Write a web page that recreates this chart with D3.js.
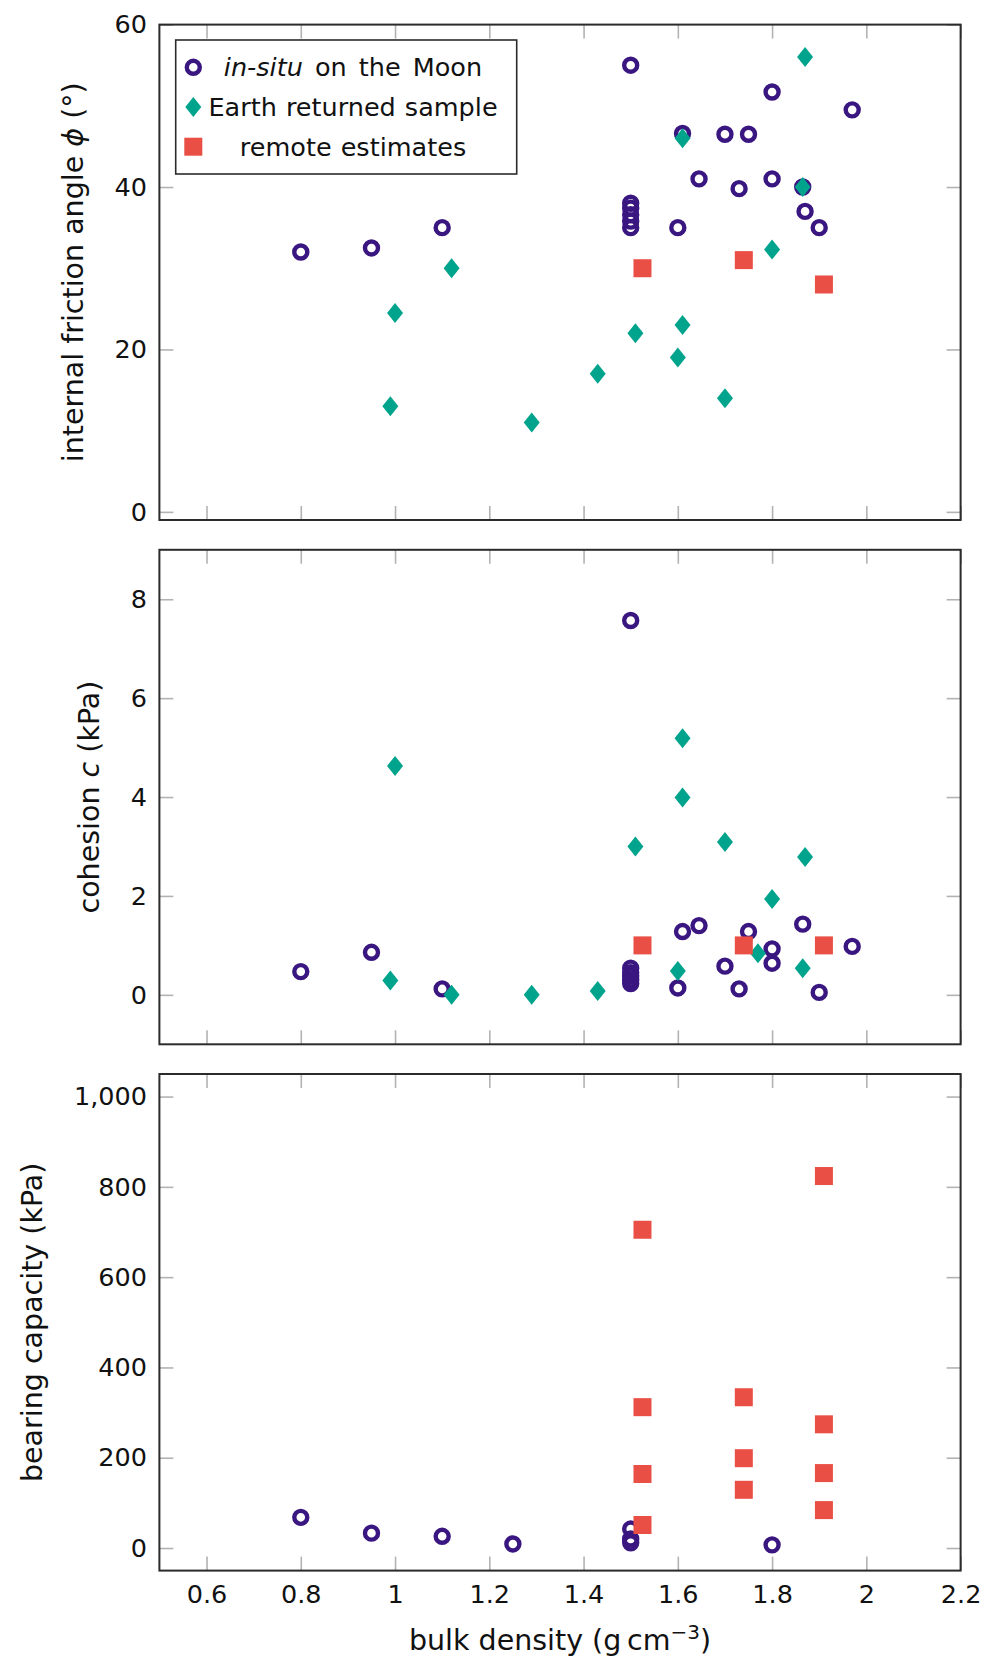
<!DOCTYPE html>
<html><head><meta charset="utf-8">
<script src="https://cdn.jsdelivr.net/npm/d3@7"></script>
<style>
html,body{margin:0;padding:0;background:#fff;}
svg{display:block;font-family:"DejaVu Sans",sans-serif;}
</style></head>
<body>
<svg id="chart" width="997" height="1678"></svg>
<script>
// ---------------- DATA ----------------
const xTicks = [0.6, 0.8, 1.0, 1.2, 1.4, 1.6, 1.8, 2.0, 2.2];

// Panel 1: internal friction angle (deg)
const phiInSituX = [0.80, 0.95, 1.10, 1.50, 1.50, 1.50, 1.50, 1.50, 1.50, 1.60, 1.61, 1.645, 1.70, 1.73, 1.75, 1.80, 1.80, 1.865, 1.87, 1.90, 1.97];
const phiInSituY = [32.0, 32.5, 35.0, 55.0, 35.0, 35.8, 36.6, 37.4, 38.0, 35.0, 46.6, 41.0, 46.5, 39.8, 46.5, 51.7, 41.0, 40.0, 37.0, 35.0, 49.5];
const phiEarthX = [0.99, 1.00, 1.12, 1.29, 1.43, 1.51, 1.60, 1.61, 1.61, 1.70, 1.80, 1.865, 1.87];
const phiEarthY = [13.0, 24.5, 30.0, 11.0, 17.0, 22.0, 19.0, 23.0, 46.0, 14.0, 32.3, 40.0, 56.0];
const phiRemoteX = [1.525, 1.74, 1.91];
const phiRemoteY = [30.0, 31.0, 28.0];

// Panel 2: cohesion (kPa)
const cohInSituX = [0.80, 0.95, 1.10, 1.50, 1.50, 1.50, 1.50, 1.50, 1.50, 1.60, 1.61, 1.645, 1.70, 1.73, 1.75, 1.80, 1.80, 1.865, 1.90, 1.97];
const cohInSituY = [0.47, 0.86, 0.12, 7.57, 0.23, 0.30, 0.38, 0.45, 0.54, 0.14, 1.28, 1.40, 0.58, 0.12, 1.28, 0.93, 0.64, 1.43, 0.05, 0.98];
const cohEarthX = [0.99, 1.00, 1.12, 1.29, 1.43, 1.51, 1.60, 1.61, 1.61, 1.70, 1.77, 1.80, 1.865, 1.87];
const cohEarthY = [0.29, 4.63, 0.00, 0.00, 0.08, 3.00, 0.48, 5.19, 3.99, 3.09, 0.84, 1.94, 0.54, 2.79];
const cohRemoteX = [1.525, 1.74, 1.91];
const cohRemoteY = [1.0, 1.0, 1.0];

// Panel 3: bearing capacity (kPa)
const bcInSituX = [0.80, 0.95, 1.10, 1.25, 1.50, 1.50, 1.50, 1.80];
const bcInSituY = [68, 33, 26, 9, 42, 20, 11.5, 7];
const bcRemoteX = [1.525, 1.525, 1.525, 1.525, 1.74, 1.74, 1.74, 1.91, 1.91, 1.91, 1.91];
const bcRemoteY = [705, 312, 164, 51, 334, 199, 129, 824, 274, 166, 84];

const yTicks1 = [0, 20, 40, 60];
const yTicks2 = [0, 2, 4, 6, 8];
const yTicks3 = [0, 200, 400, 600, 800, 1000];

const legendLabels = ["in-situ", "Earth returned sample", "remote estimates"];

// ---------------- STYLE ----------------
const C_PURPLE = "#3a1681", C_TEAL = "#00a38c", C_RED = "#e94f45";
const FRAME = "#2b2b2b", TICKC = "#b3b3b3";
const TICKFS = 25.5, LABELFS = 28.5;
const left = 159.4, right = 960.6;

const svg = d3.select("#chart");
svg.append("rect").attr("width", 997).attr("height", 1678).attr("fill", "#fff");

const x = d3.scaleLinear().domain([0.5, 2.2]).range([left, right]);
const fmtX = d => String(+d.toFixed(1));

const panels = [
  {top: 24.6, bottom: 520.0, dom: [-1, 60], ticks: yTicks1, fmt: d3.format("d"),
   series: [[phiInSituX, phiInSituY, "circle"], [phiEarthX, phiEarthY, "diamond"], [phiRemoteX, phiRemoteY, "square"]],
   label: "phi"},
  {top: 549.8, bottom: 1044.3, dom: [-1, 9], ticks: yTicks2, fmt: d3.format("d"),
   series: [[cohInSituX, cohInSituY, "circle"], [cohEarthX, cohEarthY, "diamond"], [cohRemoteX, cohRemoteY, "square"]],
   label: "coh"},
  {top: 1074.0, bottom: 1570.6, dom: [-50, 1050], ticks: yTicks3, fmt: d3.format(","),
   series: [[bcInSituX, bcInSituY, "circle"], [bcRemoteX, bcRemoteY, "square"]],
   label: "bc"}
];

function drawMarker(g, type, cx, cy) {
  if (type === "circle") {
    g.append("circle").attr("cx", cx).attr("cy", cy).attr("r", 6.5)
      .attr("fill", "none").attr("stroke", C_PURPLE).attr("stroke-width", 4.4);
  } else if (type === "diamond") {
    g.append("path").attr("transform", `translate(${cx},${cy})`)
      .attr("d", "M0,-10L8,0L0,10L-8,0Z").attr("fill", C_TEAL);
  } else {
    g.append("rect").attr("x", cx - 9).attr("y", cy - 9).attr("width", 18).attr("height", 18)
      .attr("fill", C_RED);
  }
}

panels.forEach((p, i) => {
  const y = d3.scaleLinear().domain(p.dom).range([p.bottom, p.top]);
  const g = svg.append("g");

  // ticks (inward, on all four sides)
  const axB = d3.axisBottom(x).tickValues(xTicks).tickSizeInner(-14).tickSizeOuter(0).tickPadding(14.3)
    .tickFormat(i === 2 ? fmtX : () => "");
  const axT = d3.axisTop(x).tickValues(xTicks).tickSizeInner(-14).tickSizeOuter(0).tickFormat(() => "");
  const axL = d3.axisLeft(y).tickValues(p.ticks).tickSizeInner(-14).tickSizeOuter(0).tickPadding(12.4).tickFormat(p.fmt);
  const axR = d3.axisRight(y).tickValues(p.ticks).tickSizeInner(-14).tickSizeOuter(0).tickFormat(() => "");

  const gB = g.append("g").attr("transform", `translate(0,${p.bottom})`).call(axB);
  const gT = g.append("g").attr("transform", `translate(0,${p.top})`).call(axT);
  const gL = g.append("g").attr("transform", `translate(${left},0)`).call(axL);
  const gR = g.append("g").attr("transform", `translate(${right},0)`).call(axR);
  [gB, gT, gL, gR].forEach(a => {
    a.select(".domain").remove();
    a.selectAll(".tick line").attr("stroke", TICKC).attr("stroke-width", 1.6);
    a.selectAll(".tick text").attr("fill", "#111").style("font-size", TICKFS + "px")
      .style("font-family", "'DejaVu Sans', sans-serif");
  });

  // frame
  g.append("rect").attr("x", left).attr("y", p.top).attr("width", right - left).attr("height", p.bottom - p.top)
    .attr("fill", "none").attr("stroke", FRAME).attr("stroke-width", 2);

  // markers
  const mg = g.append("g");
  p.series.forEach(([xs, ys, type]) => {
    xs.forEach((xv, k) => drawMarker(mg, type, x(xv), y(ys[k])));
  });

  // y label placed next to the widest tick label
  let maxW = 0;
  gL.selectAll(".tick text").each(function() { maxW = Math.max(maxW, this.getComputedTextLength()); });
  const lx = left - 12.4 - maxW - 32;
  const ly = (p.top + p.bottom) / 2;
  const t = g.append("text").attr("transform", `translate(${lx},${ly}) rotate(-90)`)
    .attr("text-anchor", "middle").attr("fill", "#111").style("font-size", LABELFS + "px");
  if (p.label === "phi") {
    t.append("tspan").text("internal friction angle ");
    t.append("tspan").attr("font-style", "italic").text("ϕ");
    t.append("tspan").text(" (°)");
  } else if (p.label === "coh") {
    t.append("tspan").text("cohesion ");
    t.append("tspan").attr("font-style", "italic").text("c");
    t.append("tspan").text(" (kPa)");
  } else {
    t.text("bearing capacity (kPa)");
  }
});

// x label
const xl = svg.append("text").attr("x", (left + right) / 2).attr("y", 1650).attr("text-anchor", "middle")
  .attr("fill", "#111").style("font-size", LABELFS + "px");
xl.append("tspan").text("bulk density (g\u2009cm");
xl.append("tspan").attr("dy", -11).style("font-size", "20px").text("\u22123");
xl.append("tspan").attr("dy", 11).text(")");

// legend
const lg = svg.append("g");
lg.append("rect").attr("x", 175.7).attr("y", 40).attr("width", 341).attr("height", 134)
  .attr("fill", "#fff").attr("stroke", FRAME).attr("stroke-width", 1.6);
const rowsY = [67.3, 107.0, 146.7];
const types = ["circle", "diamond", "square"];
types.forEach((tp, i) => {
  drawMarker(lg, tp, 193.3, rowsY[i]);
  const tx = lg.append("text").attr("x", 353).attr("y", rowsY[i] + 9).attr("text-anchor", "middle")
    .attr("fill", "#111").style("font-size", TICKFS + "px")
    .style("word-spacing", i === 0 ? "4px" : "1px");
  if (i === 0) {
    tx.append("tspan").attr("font-style", "italic").text(legendLabels[0]);
    tx.append("tspan").text(" on the Moon");
  } else {
    tx.text(legendLabels[i]);
  }
});
</script>
</body></html>
